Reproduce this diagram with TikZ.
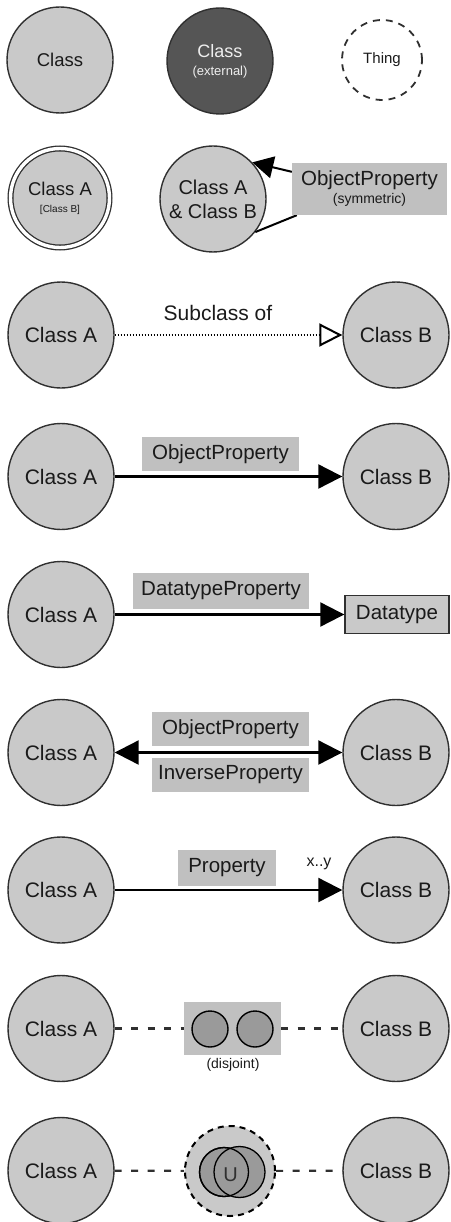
\documentclass[tikz,border=0pt]{standalone}
\usepackage{fontspec}
\setmainfont{Liberation Sans}
\usetikzlibrary{arrows.meta,calc}
\definecolor{classfill}{HTML}{C9C9C9}
\definecolor{boxfill}{HTML}{C0C0C0}
\definecolor{extfill}{HTML}{555555}
\definecolor{exttext}{HTML}{EEEEEE}
\definecolor{edge}{HTML}{303030}
\definecolor{darkfill}{HTML}{9A9A9A}
\definecolor{ink}{HTML}{1A1A1A}
\begin{document}
\begin{tikzpicture}[x=1pt,y=-1pt,
  cls/.style={circle, draw=edge, fill=classfill, line width=1.4pt,
    minimum size=106pt, inner sep=0pt, text=ink, align=center,
    font=\fontsize{21}{24}\selectfont},
  lbl/.style={fill=boxfill, inner sep=0pt, text=ink, align=center,
    minimum height=34pt, font=\fontsize{20.5}{23}\selectfont},
  prop/.style={line width=2.2pt, draw=black,
    -{Triangle[length=24pt,width=24pt]}},
  biprop/.style={line width=2.2pt, draw=black,
    {Triangle[length=24pt,width=24pt]}-{Triangle[length=24pt,width=24pt]}},
  subcl/.style={line width=1.8pt, draw=black, dash pattern=on 1.5pt off 1.5pt,
    -{Triangle[open,length=23pt,width=23pt,line width=2pt,fill=white]}},
  dashline/.style={line width=2.2pt, draw=edge, dash pattern=on 7pt off 9.5pt},
  small/.style={font=\fontsize{14}{16}\selectfont, text=ink}
]
\useasboundingbox (0,0) rectangle (450,1222);

% ---- row 1: plain class, external class, Thing
\node[cls, font=\fontsize{18.5}{21}\selectfont] (cls) at (60,60) {Class};
\node[cls, fill=extfill, text=exttext, font=\fontsize{18}{21}\selectfont]
  (ext) at (220,61) {Class\\[-3pt]{\fontsize{13}{15}\selectfont (external)}};
\node[circle, draw=edge, dash pattern=on 7pt off 6pt, line width=1.8pt,
  minimum size=80pt, inner sep=0pt, text=ink,
  font=\fontsize{15}{17}\selectfont] (thing) at (382,60) {Thing};

% ---- row 2: equivalent classes, symmetric property
\node[cls, double, double distance=3.4pt, line width=1.3pt,
  minimum size=99pt, font=\fontsize{18.5}{21}\selectfont]
  (eq) at (60,198) {Class A\\[-4pt]{\fontsize{10}{11}\selectfont [Class B]}};
\node[cls, font=\fontsize{20}{24}\selectfont] (ab) at (213,199)
  {Class A\\\& Class B};
\node[lbl, minimum width=155pt, minimum height=52pt] (sym) at (369.5,189)
  {ObjectProperty\\[-5pt]{\fontsize{14}{16}\selectfont (symmetric)}};
\draw[line width=2pt] ($(sym.south west)+(5,0)$) -- (ab.-38);
\draw[line width=2pt, -{Triangle[length=21pt,width=22pt]}]
  ($(sym.north west)+(0,9)$) -- (ab.43);
\node[lbl, minimum width=155pt, minimum height=52pt] at (sym)
  {ObjectProperty\\[-5pt]{\fontsize{14}{16}\selectfont (symmetric)}};

% ---- row 3: subclass of
\node[cls] (a3) at (61,335) {Class A};
\node[cls] (b3) at (396,335) {Class B};
\node[font=\fontsize{21}{24}\selectfont, text=ink] (sub) at (218,313) {Subclass of};
\draw[subcl] (a3) -- (b3);

% ---- row 4: object property
\node[cls] (a4) at (61,476.5) {Class A};
\node[cls] (b4) at (396,476.5) {Class B};
\node[lbl, minimum width=157pt] (op4) at (220.5,454) {ObjectProperty};
\draw[prop] (a4) -- (b4);

% ---- row 5: datatype property
\node[cls] (a5) at (61,614.5) {Class A};
\node[draw=edge, fill=classfill, line width=1.4pt, minimum width=104pt,
  minimum height=38pt, inner sep=0pt, text=ink,
  font=\fontsize{20.5}{23}\selectfont] (dt) at (397,614.5) {Datatype};
\node[lbl, minimum width=176pt, minimum height=36pt] (dp) at (221,591) {DatatypeProperty};
\draw[prop] (a5) -- (dt);

% ---- row 6: inverse properties
\node[cls] (a6) at (61,752.5) {Class A};
\node[cls] (b6) at (396,752.5) {Class B};
\node[lbl, minimum width=157pt] (op6) at (230.5,729) {ObjectProperty};
\node[lbl, minimum width=157pt] (ip6) at (230.5,775) {InverseProperty};
\draw[biprop] (a6) -- (b6);

% ---- row 7: property with cardinality
\node[cls] (a7) at (61,890) {Class A};
\node[cls] (b7) at (396,890) {Class B};
\node[lbl, minimum width=98pt, minimum height=36pt] (p7) at (227,868) {Property};
\node[font=\fontsize{16}{18}\selectfont, text=ink] (card) at (319,864) {x..y};
\draw[prop] (a7) -- (b7);

% ---- row 8: disjoint classes
\node[cls] (a8) at (61,1028.5) {Class A};
\node[cls] (b8) at (396,1028.5) {Class B};
\node[fill=boxfill, minimum width=97pt, minimum height=53pt, inner sep=0pt]
  (dj) at (232.5,1028.5) {};
\node[circle, draw=black, fill=darkfill, line width=1.4pt, minimum size=36pt,
  inner sep=0pt] (dl) at (210,1029) {};
\node[circle, draw=black, fill=darkfill, line width=1.4pt, minimum size=36pt,
  inner sep=0pt] (dr) at (255,1029) {};
\node[small] (djt) at (233,1065) {(disjoint)};
\draw[dashline] (a8) -- (dj);
\draw[dashline] (dj) -- (b8);

% ---- row 9: union of classes
\node[cls] (a9) at (61,1170.5) {Class A};
\node[cls] (b9) at (396,1170.5) {Class B};
\node[circle, draw=black, fill=classfill, line width=2pt,
  dash pattern=on 6pt off 5pt, minimum size=90pt, inner sep=0pt]
  (un) at (230,1171) {};
\draw[dashline] (a9) -- (un);
\draw[dashline] (un) -- (b9);
\node[circle, draw=black, fill=darkfill, line width=1.3pt, minimum size=49pt,
  inner sep=0pt] (ul) at (224,1172) {};
\node[circle, draw=black, fill=darkfill, line width=1.3pt, minimum size=51pt,
  inner sep=0pt] (ur) at (239.5,1172) {};
\draw[line width=1.3pt] (ul) circle[radius=24.5pt];
\node[font=\fontsize{20}{22}\selectfont, text=edge] (usym) at (230.5,1175) {U};
\end{tikzpicture}
\end{document}
